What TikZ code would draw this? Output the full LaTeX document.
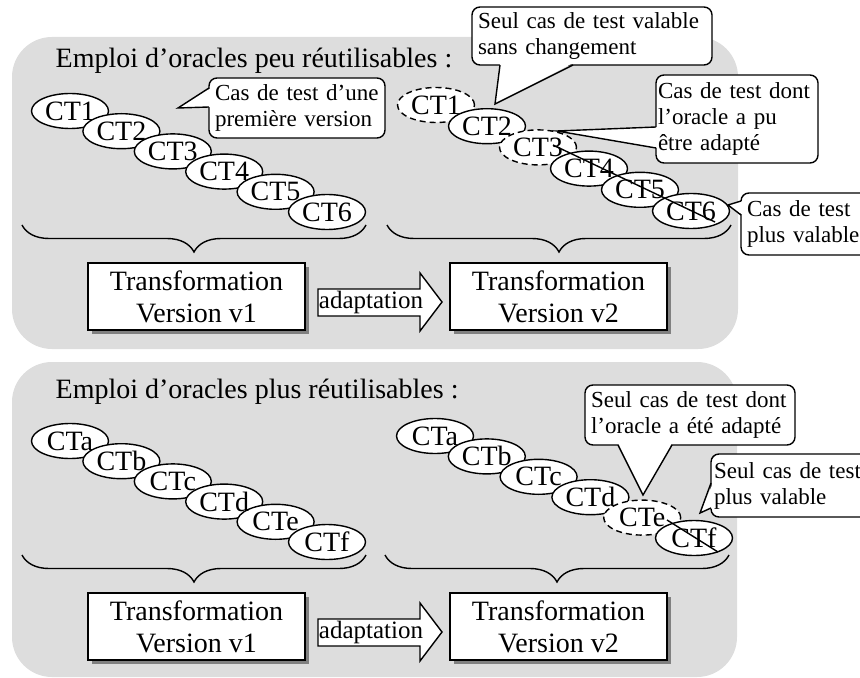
\documentclass[tikz,border=0pt]{standalone}
\usepackage{fontspec}
\setmainfont{Liberation Serif}
\usepackage{tikz}
\usetikzlibrary{shapes.geometric,decorations.pathreplacing,shadows}
\definecolor{panelgray}{RGB}{221,221,221}

\begin{document}
\begin{tikzpicture}[x=0.5pt,y=-0.5pt,line width=0.7pt,
  ct/.style={ellipse,draw,fill=white,minimum width=38.5pt,minimum height=17.5pt,inner sep=0pt},
  ctdash/.style={ct,dash pattern=on 3pt off 2pt},
  ctlabel/.style={inner sep=0pt,font=\fontsize{14}{16}\selectfont},
  paneltitle/.style={anchor=base west,inner sep=0pt,font=\fontsize{14}{16}\selectfont},
  trafo/.style={draw,fill=white,minimum width=108.5pt,minimum height=33.5pt,align=center,
    font=\fontsize{14}{16}\selectfont,
    drop shadow={shadow xshift=2pt,shadow yshift=-2pt,fill=black!50,opacity=1}},
  bubble/.style={draw,fill=white,rounded corners=4pt,align=left,inner xsep=3pt,inner ysep=0pt,
    font=\fontsize{11.5}{13}\selectfont},
  accolade/.style={decorate,decoration={brace,mirror,amplitude=13.5pt}},
  adapt/.style={inner sep=0pt,font=\fontsize{12.5}{14}\selectfont}]
\useasboundingbox (0,0) rectangle (860,678);
\clip (0,0) rectangle (860,678);

% fonds
\fill[panelgray,rounded corners=20pt] (12,37) rectangle (738,349);
\fill[panelgray,rounded corners=20pt] (12,362) rectangle (737,677);
\node[paneltitle] (titre1) at (55,68) {Emploi d’oracles peu réutilisables :};
\node[paneltitle] (titre2) at (55,398) {Emploi d’oracles plus réutilisables :};

% accolades
\draw[accolade] (22,225) -- (366,225);
\draw[accolade] (387,225) -- (731,225);
\draw[accolade] (22,555) -- (366,555);
\draw[accolade] (385,555) -- (729,555);

% transformations
\node[trafo] (tr1) at (196.5,296.5) {Transformation\\Version v1};
\node[trafo] (tr2) at (558.5,296.5) {Transformation\\Version v2};
\node[trafo] (tr3) at (196.5,626.5) {Transformation\\Version v1};
\node[trafo] (tr4) at (558.5,626.5) {Transformation\\Version v2};

% fleches adaptation
\draw[fill=white] (318,289) -- (420,289) -- (420,273) -- (442,302) -- (420,331) -- (420,316) -- (318,316) -- cycle;
\node[adapt] (ad1) at (371,302) {adaptation};
\draw[fill=white] (318,619) -- (420,619) -- (420,603) -- (442,632) -- (420,661) -- (420,646) -- (318,646) -- cycle;
\node[adapt] (ad2) at (371,632) {adaptation};

% cas de test
\foreach \i in {1,...,6}
  \node[ct] (a\i) at ({70+51.4*(\i-1)},{111+20.2*(\i-1)}) {};
\foreach \i in {1,...,6}
  \node[ctlabel] (ta\i) at (a\i) {CT\i};

\foreach \i/\s in {1/ctdash,2/ct,3/ctdash,4/ct,5/ct,6/ct}
  \node[\s] (b\i) at ({436+51*(\i-1)},{105+21.2*(\i-1)}) {};
\foreach \i in {1,...,6}
  \node[ctlabel] (tb\i) at (b\i) {CT\i};

\foreach \i in {1,...,6}
  \node[ct] (c\i) at ({70+51.4*(\i-1)},{441+20.2*(\i-1)}) {};
\foreach \i/\l in {1/a,2/b,3/c,4/d,5/e,6/f}
  \node[ctlabel] (tc\i) at (c\i) {CT\l};

\foreach \i/\s in {1/ct,2/ct,3/ct,4/ct,5/ctdash,6/ct}
  \node[\s] (d\i) at ({435+51.8*(\i-1)},{436+20.4*(\i-1)}) {};
\foreach \i/\l in {1/a,2/b,3/c,4/d,5/e,6/f}
  \node[ctlabel] (td\i) at (d\i) {CT\l};

% barres
\draw (553,145) -- (715,222);
\draw (667,520) -- (718,552);

% bulles
\node[bubble,text width=82pt,minimum height=30pt] (cv1) at (297,108) {Cas de test d’une\\première version};
\fill[white] (211,88) -- (178,108) -- (211,107) -- cycle;
\draw (209,88) -- (178,108) -- (209,107);

\node[bubble,text width=114pt,minimum height=29pt] (cv2) at (592,36) {Seul cas de test valable\\sans changement};
\fill[white] (500,63) -- (495,104) -- (573,63) -- cycle;
\draw (500,65) -- (495,104) -- (573,65);

\node[bubble,text width=79pt,inner xsep=1pt,minimum height=44pt] (cv3) at (737,119) {Cas de test dont\\l’oracle a pu\\être adapté};
\fill[white] (658,127) -- (557,131) -- (658,148) -- cycle;
\draw (656,127) -- (557,131) -- (656,148);

\node[bubble,text width=57.5pt,minimum height=31pt] (cv4) at (804.5,224) {Cas de test\\plus valable};
\fill[white] (743,201) -- (728,205) -- (743,215) -- cycle;
\draw (741,201) -- (728,205) -- (741,215);

\node[bubble,text width=99pt,minimum height=30pt] (cv5) at (690,415) {Seul cas de test dont\\l’oracle a été adapté};
\fill[white] (618,443) -- (643,495) -- (672,443) -- cycle;
\draw (618,445) -- (643,495) -- (672,445);

\node[bubble,text width=79pt,inner xsep=1.5pt,minimum height=31.5pt] (cv6) at (793,485.5) {Seul cas de test\\plus valable};
\fill[white] (713,483) -- (700,513) -- (713,508) -- cycle;
\draw (711,483) -- (700,513) -- (711,508);
\end{tikzpicture}
\end{document}
